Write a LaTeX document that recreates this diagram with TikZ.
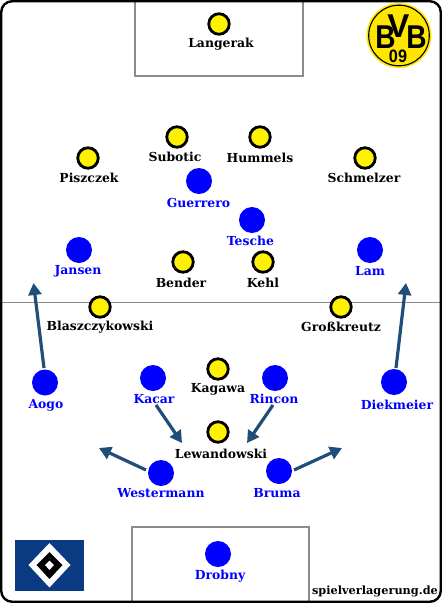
\documentclass[tikz,border=0pt]{standalone}
\usepackage{fontspec}
\setmainfont{DejaVu Serif}
\newfontfamily\logofont{Liberation Sans}
\usetikzlibrary{arrows.meta}
\definecolor{arrowblue}{HTML}{1F4E79}
\definecolor{hsvblue}{HTML}{0A3A82}
\definecolor{bvbyellow}{HTML}{FFE600}
\tikzset{
  x=1pt,y=-1pt,
  bvb/.style={circle,draw=black,line width=2.8pt,fill=yellow,minimum size=20.5pt,inner sep=0pt},
  hsv/.style={circle,fill=blue,minimum size=26pt,inner sep=0pt},
  bvblabel/.style={font=\bfseries\fontsize{12.4pt}{14pt}\selectfont,text=black,inner sep=0pt,yshift=-0.8pt},
  hsvlabel/.style={font=\bfseries\fontsize{12.4pt}{14pt}\selectfont,text=blue,inner sep=0pt,yshift=-0.8pt},
  runarrow/.style={draw=arrowblue,line width=3.2pt,-{Triangle[length=12pt,width=13pt]}},
  fieldline/.style={draw=black!45,line width=1.1pt},
  logoletter/.style={font=\logofont\bfseries\fontsize{#1}{#1}\selectfont,inner sep=0pt,anchor=base},
}
\newcommand{\bvbplayer}[6]{\node[bvb] (#1) at (#2,#3) {}; \node[bvblabel] (#1l) at (#4,#5) {#6};}
\newcommand{\hsvplayer}[6]{\node[hsv] (#1) at (#2,#3) {}; \node[hsvlabel] (#1l) at (#4,#5) {#6};}
\begin{document}
\begin{tikzpicture}
\useasboundingbox (0,0) rectangle (442,603);
\fill[white] (0,0) rectangle (442,603);
% field
\draw[fieldline,line width=1.4pt] (1,302.5) -- (441,302.5);
\draw[fieldline] (135,1) -- (135,76) -- (303,76) -- (303,1);
\draw[fieldline] (132,602) -- (132,527) -- (309,527) -- (309,602);
\draw[black,line width=2.4pt,rounded corners=11pt] (1.2,1.2) rectangle (440.8,601.8);
% BVB
\bvbplayer{langerak}{219}{24}{221}{43.5}{Langerak}
\bvbplayer{subotic}{177}{137}{175}{156.5}{Subotic}
\bvbplayer{hummels}{260}{137}{260}{157.5}{Hummels}
\bvbplayer{piszczek}{88}{158}{89}{177.5}{Piszczek}
\bvbplayer{schmelzer}{365}{158}{364}{177.5}{Schmelzer}
\bvbplayer{bender}{183}{262}{181}{282.5}{Bender}
\bvbplayer{kehl}{263}{262}{263}{282.5}{Kehl}
\bvbplayer{blasz}{100}{307}{100}{326.5}{Blaszczykowski}
\bvbplayer{gross}{341}{307}{341}{326.5}{Großkreutz}
\bvbplayer{kagawa}{218}{369}{218}{388.5}{Kagawa}
\bvbplayer{lewa}{218}{432}{221}{453.5}{Lewandowski}
% HSV
\hsvplayer{guerrero}{199}{181}{198.5}{202.5}{Guerrero}
\hsvplayer{tesche}{252}{220}{250.5}{240.5}{Tesche}
\hsvplayer{jansen}{79}{250}{78}{270.5}{Jansen}
\hsvplayer{lam}{370}{250}{370}{270.5}{Lam}
\hsvplayer{aogo}{45}{382.5}{46}{404.5}{Aogo}
\hsvplayer{kacar}{153}{378}{154}{398.5}{Kacar}
\hsvplayer{rincon}{275}{378}{274}{398.5}{Rincon}
\hsvplayer{diek}{394}{382}{397}{404.5}{Diekmeier}
\hsvplayer{west}{161}{473}{161}{492.5}{Westermann}
\hsvplayer{bruma}{279}{471}{277}{492.5}{Bruma}
\hsvplayer{drobny}{218}{554}{220}{575.5}{Drobny}
% arrows
\coordinate (aogoS) at (44,368); \coordinate (aogoE) at (33.5,283);
\coordinate (diekS) at (396,368); \coordinate (diekE) at (406,283);
\coordinate (kacarS) at (156,405); \coordinate (kacarE) at (182,443);
\coordinate (rinconS) at (273,405); \coordinate (rinconE) at (247,443);
\coordinate (westS) at (146,470); \coordinate (westE) at (99,448);
\coordinate (brumaS) at (294,470); \coordinate (brumaE) at (342,448);
\draw[runarrow] (aogoS) -- (aogoE);
\draw[runarrow] (diekS) -- (diekE);
\draw[runarrow] (kacarS) -- (kacarE);
\draw[runarrow] (rinconS) -- (rinconE);
\draw[runarrow] (westS) -- (westE);
\draw[runarrow] (brumaS) -- (brumaE);
% HSV logo
\fill[hsvblue] (15,540) rectangle (84,591);
\fill[white] (49.5,543) -- (70.5,565) -- (49.5,587.5) -- (28.5,565) -- cycle;
\fill[black] (49.5,552) -- (62.5,565) -- (49.5,579) -- (36.5,565) -- cycle;
\fill[white] (49.5,560.5) -- (54,565) -- (49.5,570) -- (45,565) -- cycle;
% BVB logo
\fill[bvbyellow] (399,35.5) circle[radius=32.5];
\draw[black,line width=1.1pt] (399,35.5) circle[radius=30.3];
\node[logoletter=33pt] (bl) at (385.5,48) {\scalebox{.85}[1]{B}};
\node[logoletter=33pt] (br) at (416.5,48) {\scalebox{.85}[1]{B}};
\node[logoletter=33pt] (vv) at (398.5,37) {V};
\node[logoletter=18pt] (nine) at (398,62) {\scalebox{.9}[1]{09}};
% credit
\node[bvblabel,font=\bfseries\fontsize{11.3pt}{13pt}\selectfont] (credit) at (375,591) {spielverlagerung.de};
\end{tikzpicture}
\end{document}
